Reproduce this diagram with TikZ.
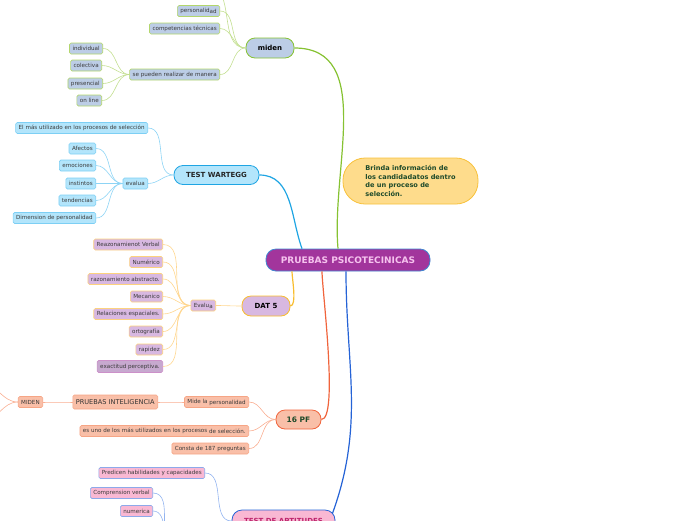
\documentclass[tikz,border=0pt]{standalone}
\usepackage{fontspec}
\setmainfont{DejaVu Sans}
\usetikzlibrary{calc}

\definecolor{ppfill}{HTML}{A2359C}
\definecolor{ppedge}{HTML}{3F86D0}
\definecolor{pptext}{HTML}{F6C3EE}
\definecolor{infofill}{HTML}{FEDC8C}
\definecolor{infoedge}{HTML}{F8C13A}
\definecolor{infotext}{HTML}{1E4A2A}
\definecolor{leaftext}{HTML}{3A3A3A}
\definecolor{mdfill}{HTML}{BCCDE6}
\definecolor{mdedge}{HTML}{B3D66C}
\definecolor{mdmain}{HTML}{86C232}
\definecolor{mdlink}{HTML}{C3DF90}
\definecolor{wtfill}{HTML}{B3E5FB}
\definecolor{wtedge}{HTML}{7DCFF4}
\definecolor{wtmain}{HTML}{1FA5E3}
\definecolor{wtlink}{HTML}{8DD4F5}
\definecolor{datfill}{HTML}{D8B8E1}
\definecolor{datedge}{HTML}{FCD27E}
\definecolor{datmain}{HTML}{F8BD2E}
\definecolor{datlink}{HTML}{FFD68E}
\definecolor{pffill}{HTML}{F9BFA8}
\definecolor{pfedge}{HTML}{F6A585}
\definecolor{pfmain}{HTML}{F0643C}
\definecolor{pflink}{HTML}{F9AE92}
\definecolor{aptfill}{HTML}{F9B8D3}
\definecolor{aptedge}{HTML}{8DA9EA}
\definecolor{aptmain}{HTML}{2563D6}
\definecolor{aptlink}{HTML}{93B4F0}

\begin{document}
\begin{tikzpicture}[x=1pt, y=-1pt]
  \tikzset{
    leaf/.style={draw, rounded corners=1.5pt, line width=0.6pt, anchor=east,
      inner xsep=3pt, inner ysep=0pt, minimum height=11pt,
      font=\fontsize{5.6}{6.5}\selectfont, text=leaftext},
    topic/.style={draw, rounded corners=9pt, line width=0.8pt, inner sep=0pt,
      minimum height=20pt, font=\bfseries\fontsize{7}{8}\selectfont},
    md leaf/.style={leaf, fill=mdfill, draw=mdedge},
    wt leaf/.style={leaf, fill=wtfill, draw=wtedge},
    dat leaf/.style={leaf, fill=datfill, draw=datedge},
    pf leaf/.style={leaf, fill=pffill, draw=pfedge},
    apt leaf/.style={leaf, fill=aptfill, draw=aptedge},
    main link/.style={line width=1.2pt},
    link/.style={line width=0.6pt},
  }

  % child east -> parent west
  \newcommand{\linkto}[3]{
    \draw[link, #3] (#1.east) to[out=0, in=180] (#2.west);
  }

  \useasboundingbox (0,0) rectangle (696,520);
  \clip (0,0) rectangle (696,520);

  % centre and info
  \node[topic, fill=ppfill, draw=ppedge, text=pptext, minimum width=164pt,
    minimum height=22pt, rounded corners=10pt,
    font=\bfseries\fontsize{9}{10}\selectfont] (pp) at (348,260) {PRUEBAS PSICOTECINICAS};
  \node[topic, fill=infofill, draw=infoedge, text=infotext, minimum width=135pt,
    minimum height=46pt, rounded corners=22pt, align=left,
    font=\bfseries\fontsize{6.6}{8.5}\selectfont] (info) at (410.5,181)
    {Brinda información de\\los candidadatos dentro\\de un proceso de\\selección.};

  % main branches
  \node[topic, fill=mdfill, draw=mdmain, minimum width=48pt] (miden) at (270,48) {miden};
  \node[topic, fill=wtfill, draw=wtmain, text=black!85, minimum width=85pt,
    minimum height=19pt] (wartegg) at (216.5,175) {TEST WARTEGG};
  \node[topic, fill=datfill, draw=datmain, minimum width=48pt] (dat) at (266,306) {DAT 5};
  \node[topic, fill=pffill, draw=pfmain, text=infotext, minimum width=45pt,
    minimum height=19pt, font=\bfseries\fontsize{7.5}{8}\selectfont] (pf) at (298.5,419.5) {16 PF};
  \node[topic, fill=aptfill, draw=aptmain, text=ppfill!70!red, minimum width=103pt,
    minimum height=22pt, rounded corners=10pt] (apt) at (283.5,521) {TEST DE APTITUDES};

  \draw[main link, mdmain] (miden.east) to[out=0, in=95] ($(pp.north)+(-10,0)$);
  \draw[main link, wtmain] (wartegg.east) to[out=0, in=110] ($(pp.north)+(-46,0)$);
  \draw[main link, datmain] ($(pp.south)+(-56,0)$) to[out=-90, in=0, looseness=0.5] (dat.east);
  \draw[main link, pfmain] ($(pp.south)+(-26,0)$) to[out=-90, in=0, looseness=0.3] (pf.east);
  \draw[main link, aptmain] ($(pp.south)+(-2,0)$) to[out=-90, in=70] ($(apt.north east)+(-3,4)$);

  % miden
  \coordinate (mdtop) at (208,-14);
  \node[md leaf] (personalidad) at (220,11) {personalid\raisebox{-1pt}{ad}};
  \node[md leaf] (competencias) at (220,28.5) {competencias técnicas};
  \node[md leaf] (manera) at (220,74.5) {se pueden realizar de manera};
  \node[md leaf] (individual) at (103,48.5) {individual};
  \node[md leaf] (colectiva) at (102,65.5) {colectiva};
  \node[md leaf] (presencial) at (103,83.5) {presencial};
  \node[md leaf] (online) at (102,100.5) {on line};
  \draw[link, mdlink] (mdtop) to[out=0, in=180] (miden.west);
  \foreach \n in {personalidad, competencias, manera} {\linkto{\n}{miden}{mdlink}}
  \foreach \n in {individual, colectiva, presencial, online} {\linkto{\n}{manera}{mdlink}}

  % test wartegg
  \node[wt leaf] (masutil) at (148,128) {El más utilizado en los procesos de selección};
  \node[wt leaf] (evalua) at (148,183.5) {evalua};
  \node[wt leaf] (afectos) at (96,148.5) {Afectos};
  \node[wt leaf] (emociones) at (96,165.5) {emociones};
  \node[wt leaf] (instintos) at (96,183.5) {instintos};
  \node[wt leaf] (tendencias) at (96,200.5) {tendencias};
  \node[wt leaf] (dimension) at (96,218) {Dimension de personalidad};
  \foreach \n in {masutil, evalua} {\linkto{\n}{wartegg}{wtlink}}
  \foreach \n in {afectos, emociones, instintos, tendencias, dimension} {\linkto{\n}{evalua}{wtlink}}

  % dat 5
  \node[dat leaf] (evaluadat) at (216,305.5) {Evalu\raisebox{-1pt}{a}};
  \node[dat leaf] (verbal) at (163,244.5) {Reazonamienot Verbal};
  \node[dat leaf] (numerico) at (163,262) {Numérico};
  \node[dat leaf] (abstracto) at (163,279) {razonamiento abstracto.};
  \node[dat leaf] (mecanico) at (163,296.5) {Mecanico};
  \node[dat leaf] (espaciales) at (163,314) {Relaciones espaciales.};
  \node[dat leaf] (ortografia) at (163,331.5) {ortografía};
  \node[dat leaf] (rapidez) at (163,349.5) {rapidez};
  \node[dat leaf, fill=datfill!92!black, draw=ppfill!55!white, minimum height=12pt]
    (exactitud) at (163,366.5) {exactitud perceptiva.};
  \linkto{evaluadat}{dat}{datlink}
  \foreach \n in {verbal, numerico, abstracto, mecanico, espaciales, ortografia, rapidez, exactitud}
    {\linkto{\n}{evaluadat}{datlink}}

  % 16 pf
  \node[pf leaf] (mide) at (249,402) {Mide la \raisebox{-1pt}{personalidad}};
  \node[pf leaf, minimum height=14pt, font=\fontsize{6.6}{7.5}\selectfont, text=black!80]
    (inteligencia) at (158,402) {PRUEBAS INTELIGENCIA};
  \node[pf leaf] (midenpf) at (43,402) {MIDEN};
  \node[pf leaf] (utilizados) at (249,431)
    {es uno de los más utilizados en los procesos \raisebox{-1pt}{de selección.}};
  \node[pf leaf] (consta) at (249,448.5) {Consta de 187 preguntas};
  \coordinate (pfoffa) at (-18,384);
  \coordinate (pfoffb) at (-18,421);
  \foreach \n in {mide, utilizados, consta} {\linkto{\n}{pf}{pflink}}
  \linkto{inteligencia}{mide}{pflink}
  \linkto{midenpf}{inteligencia}{pflink}
  \draw[link, pflink] (pfoffa) to[out=0, in=180] (midenpf.west);
  \draw[link, pflink] (pfoffb) to[out=0, in=180] (midenpf.west);

  % test de aptitudes
  \node[apt leaf] (predicen) at (205,473) {Predicen habilidades y capacidades};
  \node[apt leaf] (comprension) at (153,493) {Comprension verbal};
  \node[apt leaf] (numerica) at (153,511) {numerica};
  \coordinate (aptsub) at (176,548);
  \linkto{predicen}{apt}{aptlink}
  \draw[link, aptlink] (comprension.east) to[out=0, in=180] (aptsub);
  \draw[link, aptlink] (numerica.east) to[out=0, in=180] (aptsub);
\end{tikzpicture}
\end{document}
